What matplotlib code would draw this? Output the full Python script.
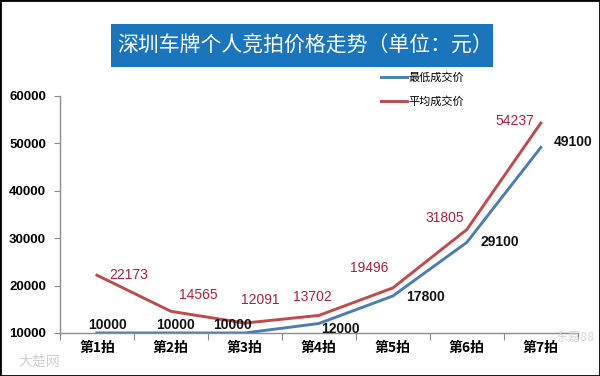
import matplotlib
matplotlib.use("Agg")
import matplotlib.pyplot as plt
from matplotlib.patches import Rectangle

plt.rcParams['font.family'] = ['Noto Sans CJK SC', 'DejaVu Sans']

rounds = ['第1拍', '第2拍', '第3拍', '第4拍', '第5拍', '第6拍', '第7拍']
lowest = [10000, 10000, 10000, 12000, 17800, 29100, 49100]
average = [22173, 14565, 12091, 13702, 19496, 31805, 54237]

# label offsets in pixels (dx, dy) relative to each point
avg_off = [(32, 0), (27, 16), (15, 23), (-7, 18), (-24, 20), (-22, 12), (-26, 2)]
low_off = [(11, 8), (5, 8), (-12, 8), (22, -6), (33, -1), (33, 0), (32, 5)]

blue = '#4A7EB0'
red = '#BC4B4B'
red_txt = '#A3233A'
axis_gray = '#8C8C8C'

fig = plt.figure(figsize=(6, 3.76), dpi=100)
ax = fig.add_axes([0.1, 0.1144, 0.863, 0.631])

x = list(range(len(rounds)))
ax.plot(x, lowest, color=blue, lw=2.1, label='最低成交价')
ax.plot(x, average, color=red, lw=2.1, label='平均成交价')

for i in x:
    ax.annotate(f'{average[i]}', (i, average[i]), xytext=avg_off[i],
                textcoords='offset pixels', ha='center', va='center',
                color=red_txt, fontsize=10, family=['Liberation Sans'])
    ax.annotate(f'{lowest[i]}', (i, lowest[i]), xytext=low_off[i],
                textcoords='offset pixels', ha='center', va='center',
                color='#111111', fontsize=10, fontweight='bold',
                family=['Liberation Sans'])

ax.set_xlim(-0.5, 6.5)
ax.set_ylim(10000, 60000)
yticks = [10000, 20000, 30000, 40000, 50000, 60000]
ax.set_yticks(yticks)
ax.set_yticklabels([str(v) for v in yticks],
                   fontsize=9.5, fontweight='bold', family=['Liberation Sans'])
ax.set_xticks([i - 0.5 for i in range(8)])
ax.set_xticklabels([])
ax.set_xticks(x, minor=True)
ax.set_xticklabels(rounds, minor=True, fontsize=10, fontweight='bold')
ax.tick_params(axis='x', which='minor', length=0, pad=6)
ax.tick_params(axis='x', which='major', length=5, color=axis_gray, direction='out')
ax.tick_params(axis='y', length=4, color=axis_gray, direction='out', pad=6)

for s in ['top', 'right']:
    ax.spines[s].set_visible(False)
for s in ['left', 'bottom']:
    ax.spines[s].set_color(axis_gray)
    ax.spines[s].set_linewidth(1)

fig.legend(loc='upper left', bbox_to_anchor=(381 / 600, 1 - 72 / 376),
           frameon=False, fontsize=8, handlelength=2.3, handletextpad=0.2,
           labelspacing=1.25, borderpad=0, borderaxespad=0)

# title box
fig.add_artist(Rectangle((111 / 600, 1 - 67 / 376), 382 / 600, 43 / 376,
                         transform=fig.transFigure, facecolor='#1B75BC',
                         edgecolor='none'))
fig.text(0.508, 1 - 46 / 376, '深圳车牌个人竞拍价格走势（单位：元）', color='white',
         fontsize=15, ha='center', va='center')

# watermarks
fig.text(0.03, 0.02, '大楚网', color='#D0D0D0', fontsize=10, ha='left', va='bottom')
fig.text(0.925, 0.085, '东嘉88', color='#DADADA', fontsize=9, ha='left', va='bottom')

# image frame
fig.add_artist(Rectangle((0, 0), 1, 1, transform=fig.transFigure, fill=False,
                         edgecolor='black', lw=2))

fig.savefig('out.png', dpi=100)
